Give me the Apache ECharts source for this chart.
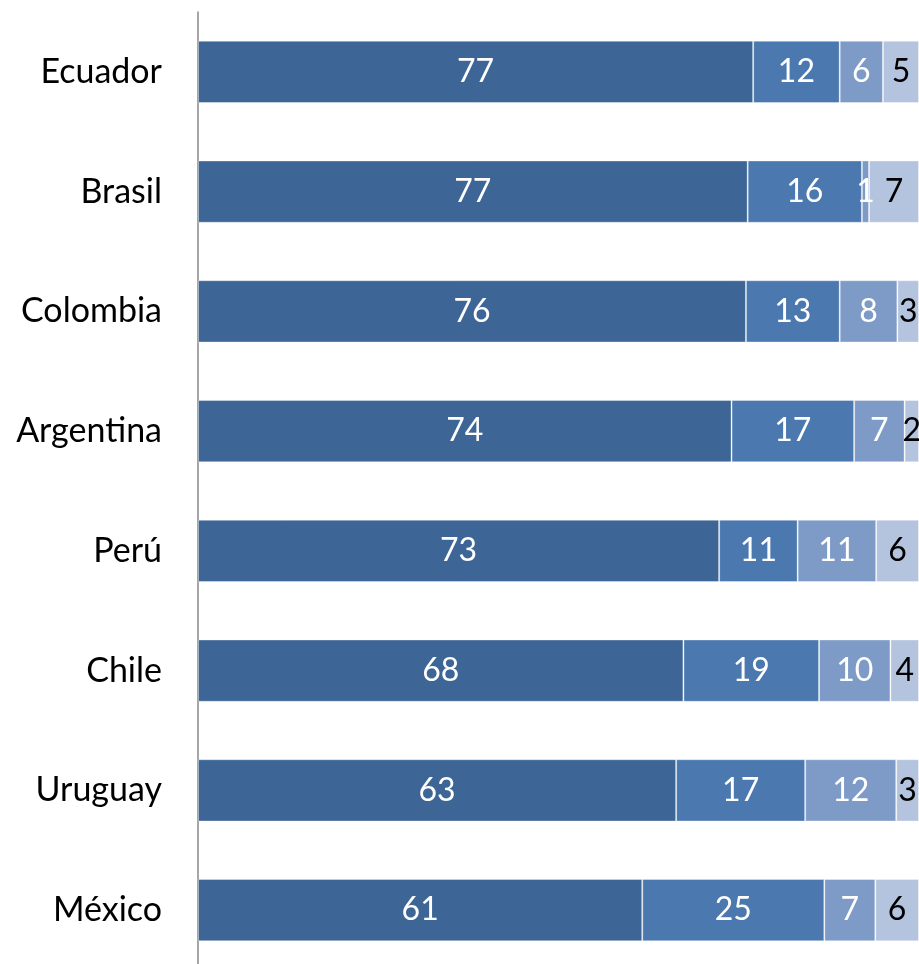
<!DOCTYPE html>
<html>
<head>
<meta charset="utf-8">
<script src="https://cdn.jsdelivr.net/npm/echarts@6/dist/echarts.min.js"></script>
<style>html,body{margin:0;padding:0;background:#fff;overflow:hidden}#c{width:919px;height:972px}</style>
</head>
<body>
<div id="c"></div>
<script>
var categories = ["Ecuador","Brasil","Colombia","Argentina","Perú","Chile","Uruguay","México"];
var seriesA = [77,77,76,74,73,68,63,61];
var seriesB = [12,16,13,17,11,19,17,25];
var seriesC = [6,1,8,7,11,10,12,7];
var seriesD = [5,7,3,2,6,4,3,6];

var raw = [seriesA, seriesB, seriesC, seriesD];
var colors = ["#3D6696", "#4A78AF", "#7E9BC8", "#B4C3DE"];
var labelColors = ["#fff", "#fff", "#fff", "#000"];
var totals = categories.map(function(_, i){ return raw.reduce(function(s, arr){ return s + arr[i]; }, 0); });

var chart = echarts.init(document.getElementById('c'));
chart.setOption({
  animation: false,
  grid: { left: 198, right: 0, top: 12, height: 958, containLabel: false },
  xAxis: { type: 'value', min: 0, max: 100, show: false },
  yAxis: {
    type: 'category', data: categories, inverse: true,
    axisLine: { show: true, lineStyle: { color: '#888', width: 1.5 } },
    axisTick: { show: false },
    axisLabel: { color: '#000', fontSize: 34, fontFamily: 'Lato', margin: 36 }
  },
  series: raw.map(function(arr, k){
    return {
      type: 'bar', stack: 'all', barCategoryGap: '48%',
      data: arr.map(function(v, i){ return { value: v / totals[i] * 100, raw: v }; }),
      itemStyle: { color: colors[k], borderColor: 'rgba(255,255,255,0.35)', borderWidth: 1 },
      label: {
        show: true, position: 'inside', color: labelColors[k], fontSize: 32, fontFamily: 'Lato',
        formatter: function(p){ return p.data.raw; }
      }
    };
  })
});
</script>
</body>
</html>
